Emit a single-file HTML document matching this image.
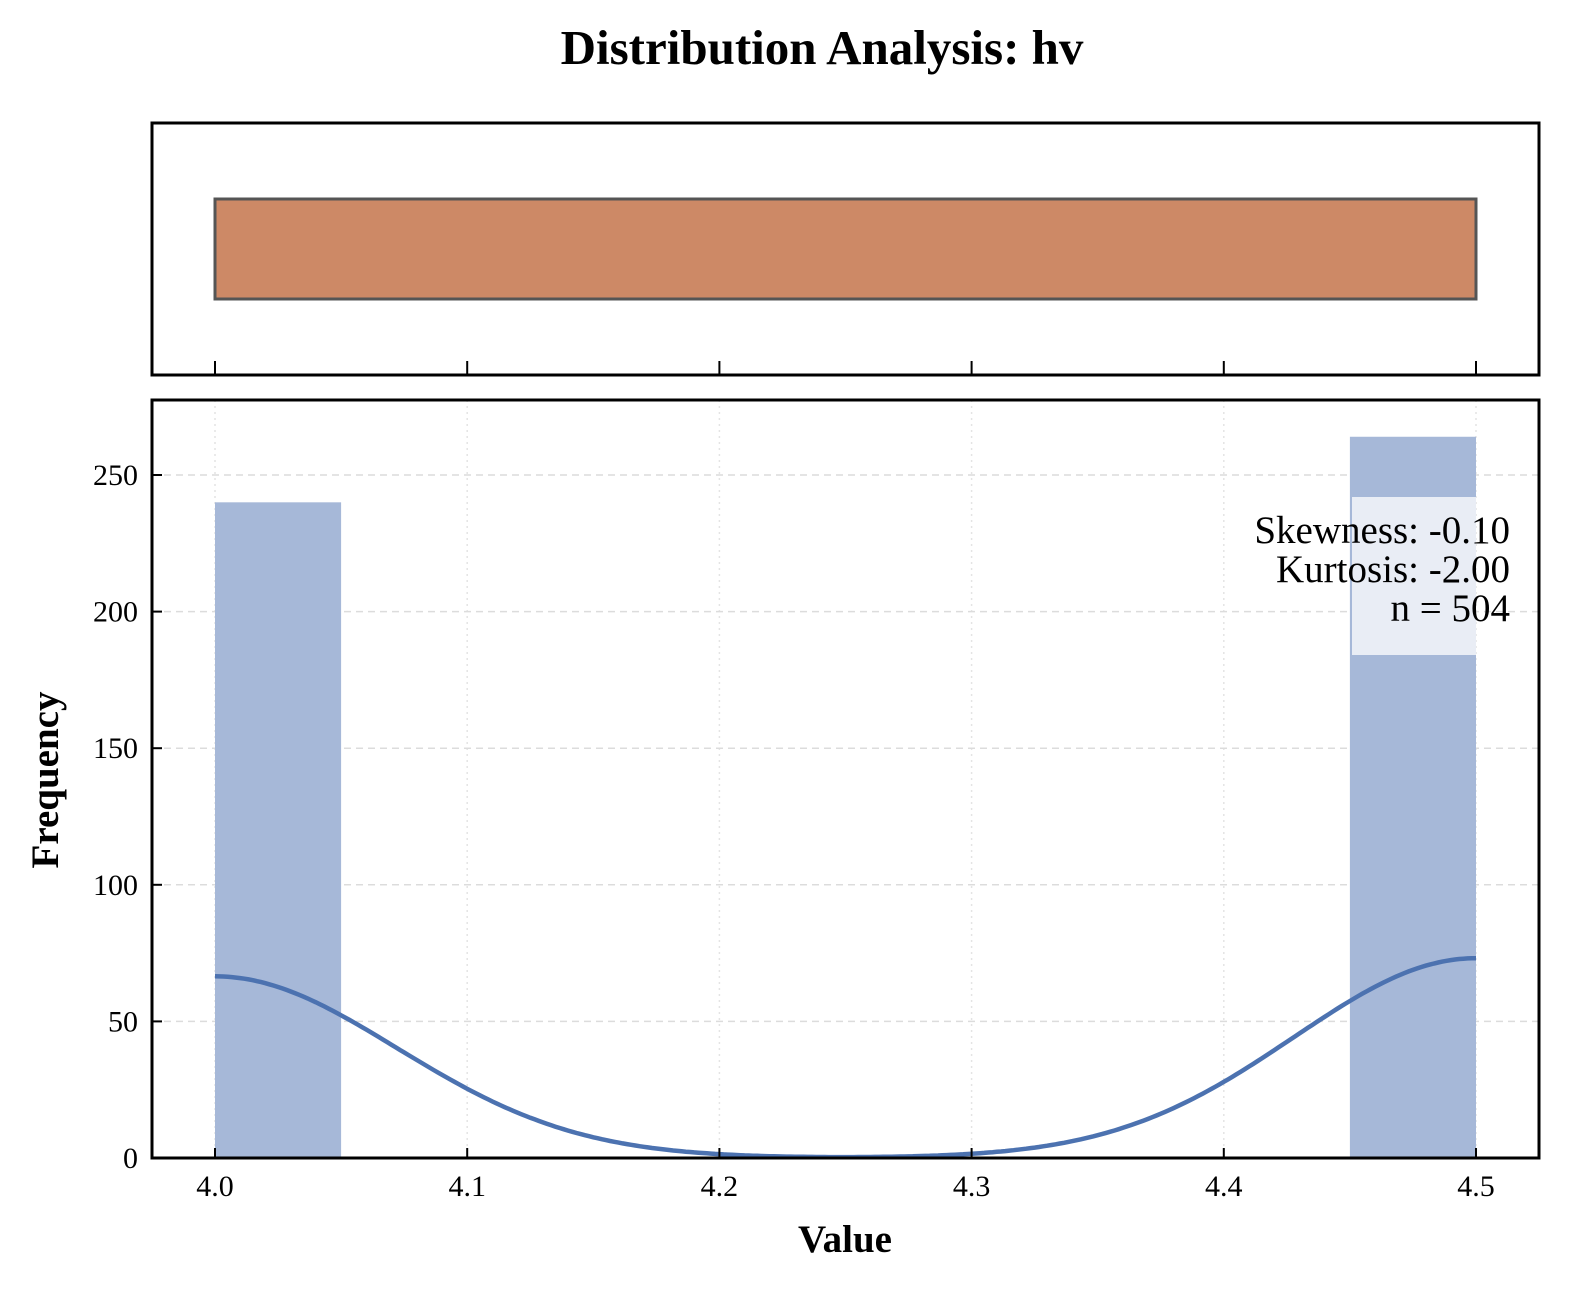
<!DOCTYPE html>
<html><head><meta charset="utf-8"><style>
html,body{margin:0;padding:0;background:#fff}
svg{display:block;font-family:"Liberation Serif",serif}
</style></head><body>
<svg id="chart" width="1577" height="1296" viewBox="0 0 1577 1296">
<text x="822" y="64" text-anchor="middle" font-size="49" font-weight="bold">Distribution Analysis: hv</text>
<g id="topbox"></g>
<g id="main"></g>
</svg>
<script>
const binEdges=[4.0,4.05,4.1,4.15,4.2,4.25,4.3,4.35,4.4,4.45,4.5];
const binCounts=[240,0,0,0,0,0,0,0,0,264];
const xTicks=[4.0,4.1,4.2,4.3,4.4,4.5];
const xTickLabels=["4.0","4.1","4.2","4.3","4.4","4.5"];
const yTicks=[0,50,100,150,200,250];
const boxStats=[4.0,4.0,4.5,4.5,4.5]; // min,q1,median,q3,max
const statsLines=["Skewness: -0.10","Kurtosis: -2.00","n = 504"];
const kdeBandwidth=0.072;

const NS="http://www.w3.org/2000/svg";
const L=152,R=1539,T=400,B=1158;
const x=v=>215+(v-4.0)*2522;
const y=v=>1158-v*2.732;
function mk(tag,attrs,parent){const e=document.createElementNS(NS,tag);for(const k in attrs)e.setAttribute(k,attrs[k]);parent.appendChild(e);return e;}
const mainG=document.getElementById('main'),topG=document.getElementById('topbox');

xTicks.forEach(t=>{const g=mk('line',{x1:x(t),x2:x(t),y1:T,y2:B,stroke:'#e4e4e4','stroke-width':1.5,'stroke-dasharray':'2,4'},mainG);

});
yTicks.forEach(t=>{const g=mk('line',{x1:L,x2:R,y1:y(t),y2:y(t),stroke:'#dcdcdc','stroke-width':1.5,'stroke-dasharray':'7,5'},mainG);

});

binCounts.forEach((c,i)=>{if(!c)return;const b=mk('rect',{x:x(binEdges[i]),y:y(c),width:x(binEdges[i+1])-x(binEdges[i]),height:y(0)-y(c),fill:'#a6b8d8'},mainG);

});

const bw=binEdges[1]-binEdges[0];
let pts=[];
for(let k=0;k<=300;k++){const v=4.0+0.5*k/300;let d=0;
binCounts.forEach((c,i)=>{if(!c)return;const ctr=i===0?binEdges[0]:binEdges[i+1];const z=(v-ctr)/kdeBandwidth;d+=c*bw*Math.exp(-z*z/2)/(kdeBandwidth*Math.sqrt(2*Math.PI));});
pts.push(x(v).toFixed(1)+','+y(d).toFixed(1));}
const kde=mk('polyline',{points:pts.join(' '),fill:'none',stroke:'#4c72b0','stroke-width':4.5},mainG);



const sb=mk('rect',{x:1352,y:497,width:124,height:158,fill:'#fff',opacity:0.75},mainG);


statsLines.forEach((s,i)=>{const t=mk('text',{x:1510,y:543+i*39,'text-anchor':'end','font-size':39},mainG);t.textContent=s;

});

const f=mk('rect',{x:L,y:T,width:R-L,height:B-T,fill:'none',stroke:'#000','stroke-width':3},mainG);


xTicks.forEach((t,i)=>{mk('line',{x1:x(t),x2:x(t),y1:B,y2:B-10,stroke:'#000','stroke-width':2},mainG);
const l=mk('text',{x:x(t),y:B+38,'text-anchor':'middle','font-size':30},mainG);l.textContent=xTickLabels[i];

});
yTicks.forEach(t=>{mk('line',{x1:L,x2:L+10,y1:y(t),y2:y(t),stroke:'#000','stroke-width':2},mainG);
const l=mk('text',{x:L-14,y:y(t)+10,'text-anchor':'end','font-size':30},mainG);l.textContent=t;

});
const xl=mk('text',{x:845,y:1252,'text-anchor':'middle','font-size':39,'font-weight':'bold'},mainG);xl.textContent='Value';


const yl=mk('text',{x:0,y:0,'text-anchor':'middle','font-size':39,'font-weight':'bold',transform:'translate(58,780) rotate(-90)'},mainG);yl.textContent='Frequency';



const bx=mk('rect',{x:x(boxStats[1]),y:199,width:x(boxStats[3])-x(boxStats[1]),height:100,fill:'#cd8966',stroke:'#555','stroke-width':3},topG);


const tf=mk('rect',{x:L,y:123,width:R-L,height:252,fill:'none',stroke:'#000','stroke-width':3},topG);


xTicks.forEach(t=>{const tk=mk('line',{x1:x(t),x2:x(t),y1:375,y2:361,stroke:'#000','stroke-width':2},topG);

});
</script>
</body></html>
